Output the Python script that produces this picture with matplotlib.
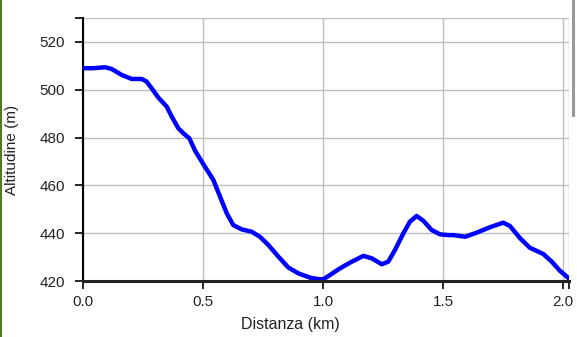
import matplotlib
matplotlib.use("Agg")
from matplotlib import pyplot as plt
from matplotlib.lines import Line2D

# Profilo altimetrico (distanza in km, altitudine in m)
distanza = [0.0, 0.043, 0.092, 0.119, 0.161, 0.203, 0.245, 0.265, 0.286, 0.314,
            0.349, 0.370, 0.397, 0.418, 0.443, 0.467, 0.508, 0.543, 0.571, 0.599,
            0.626, 0.661, 0.703, 0.737, 0.772, 0.814, 0.855, 0.897, 0.946, 0.980,
            1.001, 1.029, 1.071, 1.113, 1.168, 1.203, 1.245, 1.272, 1.300, 1.335,
            1.362, 1.390, 1.418, 1.453, 1.488, 1.522, 1.543, 1.592, 1.640, 1.696,
            1.751, 1.779, 1.821, 1.862, 1.918, 1.953, 1.987, 2.029]
altitudine = [509.0, 509.0, 509.4, 508.7, 506.2, 504.5, 504.5, 503.4, 500.6, 496.7,
              492.9, 488.7, 483.9, 481.8, 479.7, 474.5, 467.8, 462.3, 455.3, 448.3,
              443.4, 441.6, 440.6, 438.5, 435.1, 430.2, 425.7, 423.2, 421.4, 420.8,
              420.7, 422.5, 425.3, 427.7, 430.5, 429.5, 427.0, 428.1, 433.0, 440.0,
              444.8, 447.2, 445.2, 441.3, 439.5, 439.2, 439.2, 438.5, 440.2, 442.5,
              444.4, 443.0, 437.9, 433.9, 431.3, 428.1, 424.3, 420.7]

x_ticks = [0.0, 0.5, 1.0, 1.5, 2.0]
y_ticks = [420, 440, 460, 480, 500, 520]

plt.rcParams["font.family"] = ["Liberation Sans", "DejaVu Sans"]

fig = plt.figure(figsize=(5.77, 3.37), dpi=100)
ax = fig.add_axes([83 / 577, 56 / 337, 486 / 577, 263 / 337])

ax.plot(distanza, altitudine, color="#0000ff", linewidth=3.2,
        solid_capstyle="round", solid_joinstyle="round", zorder=3)

ax.set_xlim(0, 2.025)
ax.set_ylim(420, 530)
ax.set_xticks(x_ticks)
ax.set_xticklabels(["%.1f" % t for t in x_ticks])
ax.set_xticks([2.025], minor=True)
ax.set_yticks(y_ticks)
ax.set_yticks([530], minor=True)

ax.grid(True, which="major", color="#bdbdbd", linewidth=1.0)
ax.axvline(2.025, color="#bdbdbd", linewidth=1.0)
ax.axhline(530, color="#bdbdbd", linewidth=1.0)

for side in ["top", "right"]:
    ax.spines[side].set_visible(False)
ax.spines["left"].set_color("black")
ax.spines["left"].set_linewidth(1.5)
ax.spines["bottom"].set_color("#222222")
ax.spines["bottom"].set_linewidth(2.2)
ax.spines["bottom"].set_zorder(4)

ax.tick_params(axis="both", which="both", length=6, width=1.2, color="black",
               labelsize=11, labelcolor="#222222")
ax.tick_params(axis="y", which="both", pad=7)
ax.tick_params(axis="x", which="both", pad=4)

ax.set_xlabel("Distanza (km)", fontsize=11.5, color="#222222")
ax.xaxis.set_label_coords((290 - 83) / 486, -(324 - 281) / 263)
ax.xaxis.label.set_va("center")
ax.set_ylabel("Altitudine (m)", fontsize=11, color="#222222")
ax.yaxis.set_label_coords(-(83 - 12) / 486, 0.5)
ax.yaxis.label.set_va("center")

# bordo verde a sinistra e barra grigia a destra
fig.add_artist(Line2D([0.5 / 577, 0.5 / 577], [0, 1], transform=fig.transFigure,
                      color="#4f7a2a", linewidth=1.5))
fig.add_artist(Line2D([573 / 577, 573 / 577], [1 - 115 / 337, 1], transform=fig.transFigure,
                      color="#999999", linewidth=2.2))

fig.savefig("out.png", dpi=100)
